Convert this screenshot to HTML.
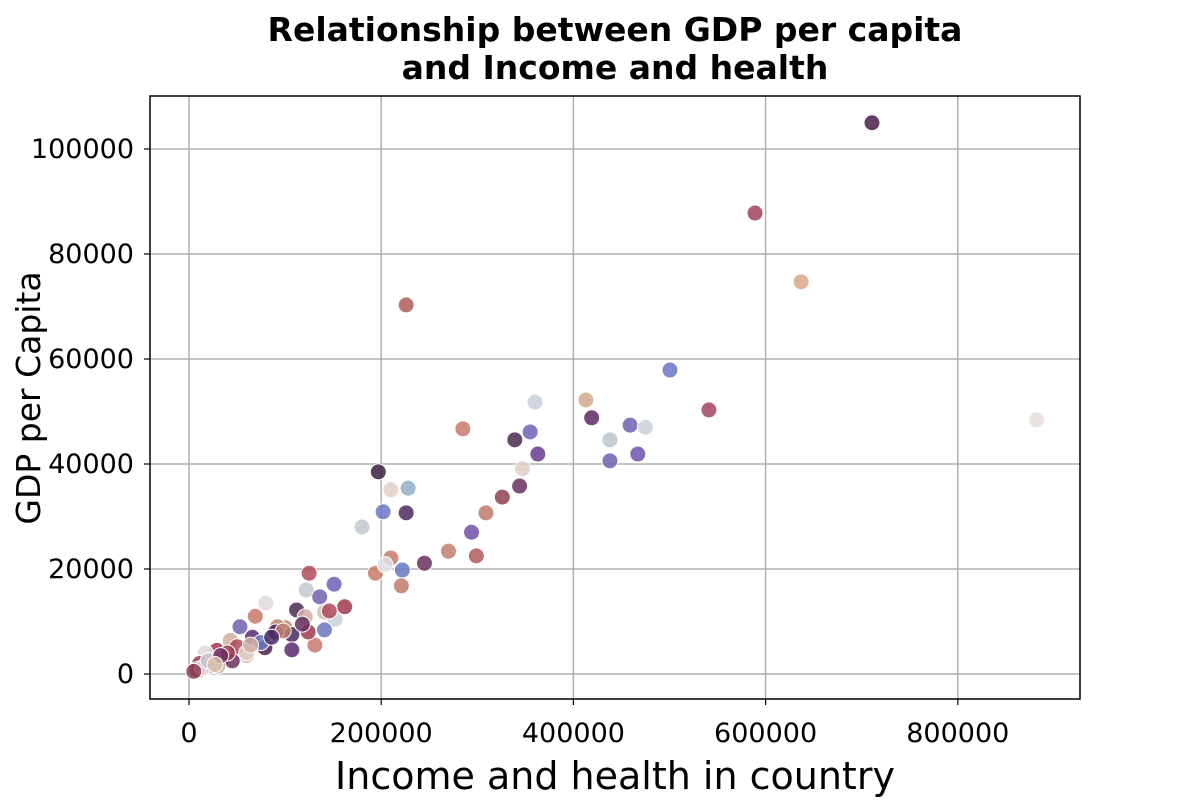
<!DOCTYPE html>
<html><head><meta charset="utf-8"><style>
body{margin:0;background:#fff;font-family:"DejaVu Sans","Liberation Sans",sans-serif}
svg text{font-family:"DejaVu Sans","Liberation Sans",sans-serif}
</style></head><body>
<svg id="chart" width="1200" height="800" xmlns="http://www.w3.org/2000/svg">
<text x="615" y="41" text-anchor="middle" font-size="33" font-weight="bold">Relationship between GDP per capita</text>
<text x="615" y="79" text-anchor="middle" font-size="33" font-weight="bold">and Income and health</text>
<g id="grid"></g><g id="ticks"></g><g id="pts"></g>
<rect x="150" y="96" width="930" height="603" fill="none" stroke="#000" stroke-width="1.5"/>
<text x="615" y="789" text-anchor="middle" font-size="38">Income and health in country</text>
<text transform="translate(40,398) rotate(-90)" text-anchor="middle" font-size="33">GDP per Capita</text>
</svg>
<script>
const xTicks=[0,200000,400000,600000,800000];
const yTicks=[0,20000,40000,60000,80000,100000];
const xVals=[710700,589000,637000,226000,500500,882000,413000,360000,419000,541000,459000,438000,475000,355000,285000,339000,363000,438000,467000,347000,344000,197000,210000,228000,326000,309000,202000,226000,180000,294000,270000,299000,245000,210000,222000,194000,221000,204000,125000,151000,122000,136000,80000,69000,53000,112000,121000,141000,162000,152000,141000,131000,124000,100000,107000,92000,79000,107000,66000,60000,43000,50000,29000,24000,17000,10000,11000,22000,8000,90000,75000,60000,35000,45000,30000,14000,146000,118000,98000,86000,64000,40000,20000,5000,33000,27000];
const yVals=[105000,87800,74700,70300,57900,48400,52200,51800,48800,50300,47400,44600,47000,46100,46700,44600,41900,40600,41900,39100,35800,38500,35100,35400,33700,30700,30900,30700,28000,27000,23400,22500,21100,22100,19800,19200,16800,20800,19200,17100,16000,14700,13500,11000,9000,12200,10900,11800,12800,10400,8400,5500,8000,8800,7500,9000,5000,4600,7000,3500,6400,5200,4500,2800,4000,700,2000,1500,800,8000,6000,4000,3000,2500,1500,1200,12000,9500,8200,7000,5500,4000,2500,500,3500,1800];
const colors=["#4a1f4a","#a0415a","#d8a88a","#b05a5a","#6a78c0","#e8dcdc","#d4a88a","#c8d0d8","#5a2a60","#a04560","#7060b0","#b8c8d0","#c8d0d8","#7060b8","#c87a6a","#4a2a50","#6a3a90","#7060b0","#7050a8","#e0d0c8","#6a3060","#3a2040","#e0d0c8","#90b0c8","#904050","#c07a6a","#6a78c0","#4a2a60","#c0c8d0","#7050a8","#c08070","#b05a5a","#6a3060","#c87a6a","#6a78c0","#c87a6a","#c07a6a","#e0e0e8","#b04a5a","#7060b0","#c0c8d0","#7060b0","#e0d8dc","#c87a6a","#7060b0","#4a2a50","#d0b0a0","#d0c0c0","#a03a50","#c8d0d8","#6a78c0","#c87a6a","#a03a50","#c08070","#4a2a60","#c08070","#4a1f4a","#5a2a70","#5a2a70","#d0b0a0","#d0b0a0","#b04a5a","#a03a50","#d8c0b0","#e0d8dc","#a03a50","#904050","#d0b0a0","#6a3060","#4a2a60","#6a78c0","#e0d0c8","#a03a50","#6a3060","#d0b0a0","#e0d8dc","#b04a5a","#6a3060","#c08070","#4a2a60","#d0b0a0","#a03a50","#c8c0d0","#904050","#6a3060","#d8c0b0"];
const NS="http://www.w3.org/2000/svg";
const xs=v=>189+v/200000*192.2;
const ys=v=>674-v/20000*105;
const grid=document.getElementById('grid'),ticks=document.getElementById('ticks'),pts=document.getElementById('pts');
function mk(tag,attrs,parent){const e=document.createElementNS(NS,tag);for(const k in attrs)e.setAttribute(k,attrs[k]);parent.appendChild(e);return e;}
xTicks.forEach(t=>{const x=xs(t);
 const l=mk('line',{x1:x,x2:x,y1:96,y2:699,stroke:'#b0b0b0','stroke-width':1.5},grid);
 
 
 mk('line',{x1:x,x2:x,y1:699,y2:705,stroke:'#000','stroke-width':1.2},ticks);
 const tx=mk('text',{x:x,y:742,'text-anchor':'middle','font-size':27},ticks);tx.textContent=t;
 
 });
yTicks.forEach(t=>{const y=ys(t);
 const l=mk('line',{x1:150,x2:1080,y1:y,y2:y,stroke:'#b0b0b0','stroke-width':1.5},grid);
 
 
 mk('line',{x1:144,x2:150,y1:y,y2:y,stroke:'#000','stroke-width':1.2},ticks);
 const tx=mk('text',{x:134,y:y+9,'text-anchor':'end','font-size':27},ticks);tx.textContent=t;
 
 });
xVals.forEach((v,i)=>{
 const c=mk('circle',{cx:xs(v),cy:ys(yVals[i]),r:8,fill:colors[i],'fill-opacity':0.85,stroke:'#fff','stroke-width':1},pts);
 
 });
</script>
</body></html>
